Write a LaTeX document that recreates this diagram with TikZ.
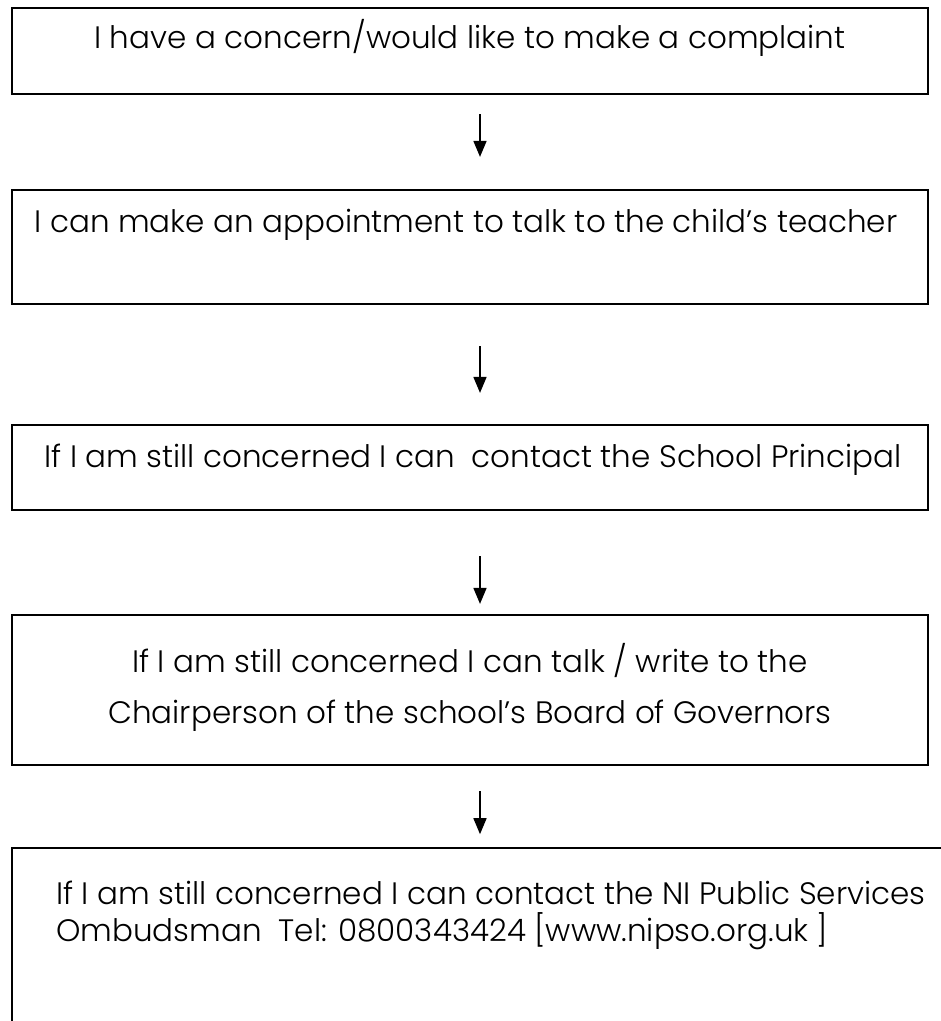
\documentclass[tikz,border=0pt]{standalone}
\usepackage{fontspec}
\setmainfont{Poppins Light}
\usetikzlibrary{arrows.meta}
\tikzset{
  stagebox/.style={draw, line width=2.2pt, minimum width=916pt, inner sep=0pt},
  stagetext/.style={anchor=base, inner sep=0pt, font=\fontsize{31}{31}\selectfont},
}
\begin{document}
\begin{tikzpicture}[x=1pt, y=-1pt, >={Triangle[length=16pt, width=13pt]}]
    \useasboundingbox (0,0) rectangle (941,1021);
    % Boxes
    \node[stagebox, minimum height=86pt]  (concern)   at (470, 51)  {};
    \node[stagebox, minimum height=114pt] (teacher)   at (470, 247) {};
    \node[stagebox, minimum height=85pt]  (principal) at (470, 467.5) {};
    \node[stagebox, minimum height=150pt] (governors) at (470, 690) {};
    \node[draw, line width=1.6pt, minimum width=948pt, minimum height=212pt, inner sep=0pt] (ombudsman) at (486, 954) {};
    % Texts
    \node[stagetext] (t1)  at (470, 48)  {I have a concern/would like to make a complaint};
    \node[stagetext] (t2)  at (466, 232) {I can make an appointment to talk to the child’s teacher};
    \node[stagetext] (t3)  at (473, 467) {If I am still concerned I can\ \ contact the School Principal};
    \node[stagetext] (t4a) at (470, 672) {If I am still concerned I can talk / write to the};
    \node[stagetext] (t4b) at (470, 723) {Chairperson of the school’s Board of Governors};
    \node[stagetext, anchor=base west] (t5a) at (56, 904) {If I am still concerned I can contact the NI Public Services};
    \node[stagetext, anchor=base west] (t5b) at (56, 941) {Ombudsman\ \ Tel: 0800343424 [www.nipso.org.uk ]};
    % Arrows connecting the boxes
    \draw[->, line width=1.6pt, shorten <=19pt, shorten >=32pt] ([xshift=10pt]concern.south) -- ([xshift=10pt]teacher.north);
    \draw[->, line width=1.6pt, shorten <=41pt, shorten >=31pt] ([xshift=10pt]teacher.south) -- ([xshift=10pt]principal.north);
    \draw[->, line width=1.6pt, shorten <=45pt, shorten >=10pt] ([xshift=10pt]principal.south) -- ([xshift=10pt]governors.north);
    \draw[->, line width=1.6pt, shorten <=25pt, shorten >=13pt] ([xshift=10pt]governors.south) -- ([xshift=-6pt]ombudsman.north);
\end{tikzpicture}
\end{document}
